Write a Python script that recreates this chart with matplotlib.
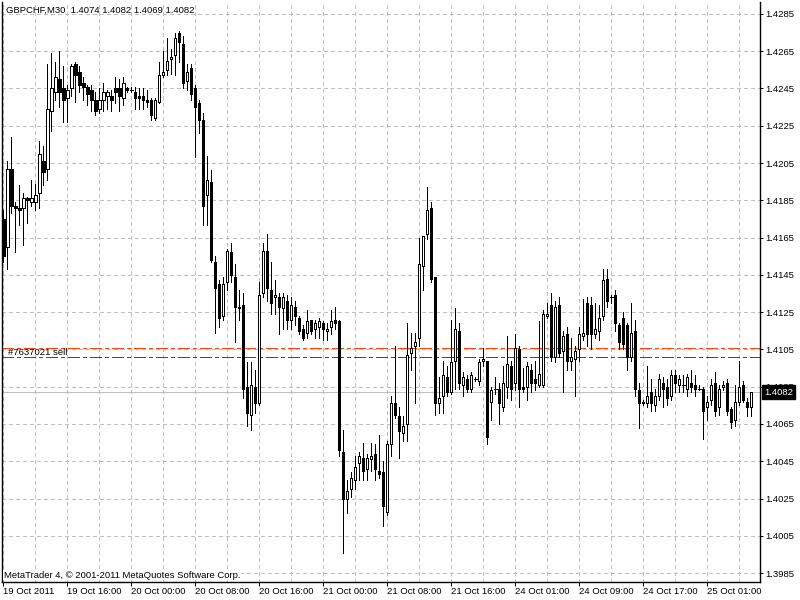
""" redraw the GBPCHF M30 candle chart """

import matplotlib
matplotlib.use("Agg")
import matplotlib.pyplot
import matplotlib.transforms
import numpy

OUTPUT = "out.png"

SYMBOL = "GBPCHF,M30"
COPYRIGHT = "MetaTrader 4, \u00a9 2001-2011 MetaQuotes Software Corp."
ORDER_LABEL = "#7637021 sell"
ORDER_OPEN = 1.4101
ORDER_STOP = 1.4106

# one label every 16 bars (8 hours)
TIME_LABELS = ["19 Oct 2011", "19 Oct 16:00", "20 Oct 00:00", "20 Oct 08:00",
               "20 Oct 16:00", "21 Oct 00:00", "21 Oct 08:00", "21 Oct 16:00",
               "24 Oct 01:00", "24 Oct 09:00", "24 Oct 17:00", "25 Oct 01:00"]
PRICE_TICKS = [1.3985, 1.4005, 1.4025, 1.4045, 1.4065, 1.4085, 1.4105, 1.4125,
               1.4145, 1.4165, 1.4185, 1.4205, 1.4225, 1.4245, 1.4265, 1.4285]

OPENS = [1.4175, 1.4160, 1.4202, 1.4182, 1.4181, 1.4181, 1.4186, 1.4184, 1.4184, 1.4189,
         1.4206, 1.4202, 1.4233, 1.4243, 1.4250, 1.4245, 1.4240, 1.4245, 1.4258, 1.4254,
         1.4248, 1.4246, 1.4244, 1.4239, 1.4234, 1.4239, 1.4241, 1.4241, 1.4245, 1.4245,
         1.4240, 1.4245, 1.4244, 1.4243, 1.4241, 1.4241, 1.4239, 1.4239, 1.4229, 1.4238,
         1.4252, 1.4255, 1.4261, 1.4263, 1.4275, 1.4269, 1.4249, 1.4256, 1.4245, 1.4237,
         1.4228, 1.4188, 1.4195, 1.4152, 1.4140, 1.4123, 1.4141, 1.4157, 1.4144, 1.4127,
         1.4129, 1.4085, 1.4070, 1.4085, 1.4076, 1.4135, 1.4158, 1.4137, 1.4133, 1.4133,
         1.4127, 1.4131, 1.4121, 1.4128, 1.4122, 1.4116, 1.4114, 1.4121, 1.4116, 1.4117,
         1.4119, 1.4115, 1.4117, 1.4121, 1.4120, 1.4050, 1.4025, 1.4030, 1.4035, 1.4044,
         1.4047, 1.4041, 1.4046, 1.4049, 1.4040, 1.4039, 1.4018, 1.4054, 1.4076, 1.4069,
         1.4060, 1.4065, 1.4103, 1.4107, 1.4111, 1.4150, 1.4167, 1.4181, 1.4144, 1.4076,
         1.4080, 1.4090, 1.4082, 1.4099, 1.4115, 1.4086, 1.4089, 1.4084, 1.4089, 1.4088,
         1.4099, 1.4099, 1.4077, 1.4084, 1.4084, 1.4074, 1.4085, 1.4096, 1.4087, 1.4105,
         1.4085, 1.4085, 1.4094, 1.4089, 1.4086, 1.4086, 1.4123, 1.4129, 1.4101, 1.4129,
         1.4104, 1.4113, 1.4099, 1.4100, 1.4105, 1.4112, 1.4130, 1.4129, 1.4113, 1.4115,
         1.4123, 1.4143, 1.4133, 1.4134, 1.4118, 1.4122, 1.4118, 1.4101, 1.4115, 1.4083,
         1.4077, 1.4076, 1.4082, 1.4075, 1.4080, 1.4087, 1.4085, 1.4080, 1.4091, 1.4086,
         1.4086, 1.4084, 1.4087, 1.4086, 1.4084, 1.4084, 1.4074, 1.4078, 1.4087, 1.4074,
         1.4085, 1.4087, 1.4073, 1.4067, 1.4077, 1.4086, 1.4077, 1.4074]

HIGHS = [1.4180, 1.4206, 1.4219, 1.4184, 1.4193, 1.4189, 1.4187, 1.4196, 1.4194, 1.4217,
         1.4214, 1.4258, 1.4264, 1.4259, 1.4265, 1.4257, 1.4247, 1.4258, 1.4259, 1.4257,
         1.4251, 1.4247, 1.4247, 1.4243, 1.4245, 1.4248, 1.4244, 1.4244, 1.4251, 1.4250,
         1.4251, 1.4246, 1.4246, 1.4246, 1.4245, 1.4245, 1.4244, 1.4240, 1.4240, 1.4259,
         1.4265, 1.4272, 1.4266, 1.4275, 1.4276, 1.4273, 1.4258, 1.4258, 1.4247, 1.4239,
         1.4232, 1.4209, 1.4201, 1.4155, 1.4142, 1.4144, 1.4159, 1.4162, 1.4151, 1.4137,
         1.4135, 1.4098, 1.4098, 1.4094, 1.4141, 1.4162, 1.4167, 1.4152, 1.4142, 1.4135,
         1.4135, 1.4134, 1.4133, 1.4131, 1.4123, 1.4118, 1.4126, 1.4121, 1.4121, 1.4122,
         1.4120, 1.4119, 1.4126, 1.4128, 1.4121, 1.4062, 1.4035, 1.4039, 1.4048, 1.4050,
         1.4055, 1.4049, 1.4055, 1.4054, 1.4059, 1.4045, 1.4056, 1.4080, 1.4107, 1.4074,
         1.4069, 1.4119, 1.4114, 1.4114, 1.4165, 1.4166, 1.4192, 1.4184, 1.4144, 1.4090,
         1.4099, 1.4096, 1.4121, 1.4127, 1.4119, 1.4093, 1.4091, 1.4093, 1.4090, 1.4100,
         1.4106, 1.4099, 1.4085, 1.4090, 1.4087, 1.4096, 1.4112, 1.4099, 1.4113, 1.4107,
         1.4095, 1.4098, 1.4097, 1.4099, 1.4120, 1.4126, 1.4130, 1.4135, 1.4131, 1.4133,
         1.4115, 1.4117, 1.4111, 1.4107, 1.4117, 1.4132, 1.4133, 1.4133, 1.4130, 1.4129,
         1.4148, 1.4148, 1.4134, 1.4137, 1.4119, 1.4125, 1.4119, 1.4130, 1.4121, 1.4087,
         1.4078, 1.4096, 1.4089, 1.4084, 1.4092, 1.4090, 1.4089, 1.4094, 1.4094, 1.4091,
         1.4091, 1.4092, 1.4094, 1.4091, 1.4086, 1.4085, 1.4080, 1.4089, 1.4093, 1.4086,
         1.4088, 1.4089, 1.4074, 1.4086, 1.4099, 1.4088, 1.4079, 1.4082]

LOWS = [1.4152, 1.4148, 1.4178, 1.4157, 1.4172, 1.4161, 1.4173, 1.4182, 1.4180, 1.4181,
        1.4193, 1.4196, 1.4222, 1.4239, 1.4235, 1.4227, 1.4227, 1.4241, 1.4238, 1.4243,
        1.4239, 1.4236, 1.4233, 1.4231, 1.4232, 1.4233, 1.4234, 1.4233, 1.4237, 1.4233,
        1.4236, 1.4243, 1.4243, 1.4234, 1.4234, 1.4234, 1.4235, 1.4228, 1.4228, 1.4237,
        1.4251, 1.4252, 1.4253, 1.4252, 1.4259, 1.4245, 1.4244, 1.4239, 1.4208, 1.4221,
        1.4172, 1.4172, 1.4152, 1.4114, 1.4117, 1.4121, 1.4137, 1.4141, 1.4109, 1.4121,
        1.4079, 1.4064, 1.4062, 1.4071, 1.4075, 1.4133, 1.4131, 1.4124, 1.4124, 1.4113,
        1.4116, 1.4116, 1.4116, 1.4118, 1.4113, 1.4110, 1.4111, 1.4113, 1.4111, 1.4111,
        1.4110, 1.4110, 1.4113, 1.4116, 1.4048, 1.3996, 1.4017, 1.4026, 1.4030, 1.4035,
        1.4035, 1.4035, 1.4040, 1.4035, 1.4036, 1.4010, 1.4016, 1.4048, 1.4068, 1.4047,
        1.4056, 1.4056, 1.4094, 1.4076, 1.4107, 1.4137, 1.4164, 1.4141, 1.4070, 1.4071,
        1.4071, 1.4080, 1.4081, 1.4084, 1.4084, 1.4080, 1.4082, 1.4082, 1.4088, 1.4086,
        1.4096, 1.4054, 1.4067, 1.4081, 1.4065, 1.4072, 1.4079, 1.4078, 1.4083, 1.4074,
        1.4082, 1.4078, 1.4082, 1.4083, 1.4085, 1.4085, 1.4122, 1.4099, 1.4098, 1.4101,
        1.4082, 1.4094, 1.4094, 1.4080, 1.4099, 1.4110, 1.4107, 1.4105, 1.4111, 1.4110,
        1.4121, 1.4128, 1.4130, 1.4115, 1.4105, 1.4105, 1.4094, 1.4099, 1.4080, 1.4063,
        1.4075, 1.4074, 1.4072, 1.4072, 1.4078, 1.4074, 1.4075, 1.4078, 1.4082, 1.4082,
        1.4082, 1.4080, 1.4082, 1.4080, 1.4083, 1.4057, 1.4067, 1.4075, 1.4069, 1.4070,
        1.4083, 1.4070, 1.4063, 1.4064, 1.4075, 1.4077, 1.4069, 1.4069]

CLOSES = [1.4155, 1.4202, 1.4182, 1.4181, 1.4180, 1.4186, 1.4185, 1.4186, 1.4188, 1.4210,
          1.4200, 1.4234, 1.4245, 1.4251, 1.4243, 1.4239, 1.4244, 1.4257, 1.4252, 1.4247,
          1.4246, 1.4242, 1.4239, 1.4233, 1.4239, 1.4243, 1.4243, 1.4239, 1.4243, 1.4241,
          1.4248, 1.4244, 1.4244, 1.4240, 1.4240, 1.4239, 1.4238, 1.4231, 1.4239, 1.4252,
          1.4254, 1.4260, 1.4262, 1.4272, 1.4270, 1.4248, 1.4254, 1.4242, 1.4235, 1.4228,
          1.4182, 1.4196, 1.4153, 1.4138, 1.4122, 1.4140, 1.4158, 1.4145, 1.4128, 1.4128,
          1.4084, 1.4071, 1.4086, 1.4076, 1.4134, 1.4158, 1.4138, 1.4130, 1.4134, 1.4128,
          1.4133, 1.4121, 1.4129, 1.4123, 1.4115, 1.4111, 1.4120, 1.4115, 1.4119, 1.4120,
          1.4116, 1.4116, 1.4120, 1.4119, 1.4051, 1.4025, 1.4029, 1.4036, 1.4042, 1.4048,
          1.4040, 1.4047, 1.4048, 1.4041, 1.4038, 1.4021, 1.4054, 1.4076, 1.4070, 1.4061,
          1.4064, 1.4102, 1.4106, 1.4109, 1.4151, 1.4166, 1.4180, 1.4143, 1.4076, 1.4079,
          1.4091, 1.4082, 1.4098, 1.4116, 1.4087, 1.4090, 1.4084, 1.4091, 1.4089, 1.4098,
          1.4100, 1.4058, 1.4083, 1.4084, 1.4076, 1.4087, 1.4097, 1.4084, 1.4106, 1.4084,
          1.4084, 1.4096, 1.4087, 1.4087, 1.4092, 1.4124, 1.4124, 1.4101, 1.4128, 1.4103,
          1.4112, 1.4099, 1.4101, 1.4104, 1.4113, 1.4114, 1.4113, 1.4113, 1.4116, 1.4122,
          1.4142, 1.4131, 1.4133, 1.4119, 1.4109, 1.4108, 1.4101, 1.4114, 1.4084, 1.4076,
          1.4076, 1.4080, 1.4076, 1.4080, 1.4089, 1.4084, 1.4079, 1.4091, 1.4087, 1.4089,
          1.4086, 1.4090, 1.4085, 1.4084, 1.4084, 1.4072, 1.4077, 1.4086, 1.4072, 1.4084,
          1.4086, 1.4072, 1.4066, 1.4077, 1.4085, 1.4078, 1.4074, 1.4082]

GRID_COLOR = "#c0c0c0"
PX = 72.0 / 100  # one pixel in points


def plot_chart():
    matplotlib.rcParams["font.family"] = ["Liberation Sans", "DejaVu Sans"]
    matplotlib.rcParams["font.size"] = 6.8
    matplotlib.rcParams["lines.scale_dashes"] = False

    opens = numpy.array(OPENS)
    highs = numpy.array(HIGHS)
    lows = numpy.array(LOWS)
    closes = numpy.array(CLOSES)
    index = numpy.arange(len(opens))

    fig = matplotlib.pyplot.figure(figsize=(8, 6), dpi=100, facecolor="white")
    # plot area: 2..760 px wide, 2..582 px tall
    ax = fig.add_axes([2 / 800, 18 / 600, 758 / 800, 580 / 600])
    ax.set_xlim(-0.33, 189.2)
    ax.set_ylim(1.39802, 1.42914)

    # dashed grid, every 8 bars and every price tick
    for k in range(0, 190, 8):
        ax.axvline(k, color=GRID_COLOR, linewidth=PX, linestyle=(0, (3 * PX, 3 * PX)),
                   antialiased=False, zorder=0)
    for p in PRICE_TICKS:
        ax.axhline(p, color=GRID_COLOR, linewidth=PX, linestyle=(0, (3 * PX, 3 * PX)),
                   antialiased=False, zorder=0)

    # bid line
    ax.axhline(closes[-1], color=GRID_COLOR, linewidth=PX, antialiased=False, zorder=1)

    # order lines (stop loss in red, open price in green)
    dashdot = (0, (11 * PX, 4 * PX, 3 * PX, 4 * PX))
    ax.axhline(ORDER_STOP, color="#ff4500", linewidth=PX, linestyle=dashdot,
               antialiased=False, zorder=1)
    ax.axhline(ORDER_OPEN, color="#008000", linewidth=PX, linestyle=dashdot,
               antialiased=False, zorder=1)

    # candles
    ax.vlines(index, lows, highs, color="black", linewidth=PX, antialiased=False, zorder=2)
    up = closes > opens
    down = closes < opens
    flat = closes == opens
    ax.bar(index[up], (closes - opens)[up], 0.6, bottom=opens[up], facecolor="white",
           edgecolor="black", linewidth=PX, antialiased=False, zorder=3)
    ax.bar(index[down], (opens - closes)[down], 0.6, bottom=closes[down], facecolor="black",
           edgecolor="black", linewidth=PX, antialiased=False, zorder=3)
    ax.hlines(opens[flat], index[flat] - 0.35, index[flat] + 0.35, color="black",
              linewidth=PX, antialiased=False, zorder=3)

    # frame
    for side in ["left", "right", "bottom"]:
        ax.spines[side].set_linewidth(PX * 1.4)
        ax.spines[side].set_color("black")
    ax.spines["top"].set_visible(False)

    # price axis on the right
    ax.yaxis.tick_right()
    ax.set_yticks(PRICE_TICKS)
    ax.set_yticklabels(["{:.4f}".format(p) for p in PRICE_TICKS])
    ax.tick_params(axis="y", direction="out", length=3 * PX, width=PX, pad=2 * PX,
                   labelsize=6.8, colors="black")

    # time axis
    ax.set_xticks(numpy.arange(len(TIME_LABELS)) * 16)
    ax.set_xticklabels(TIME_LABELS)
    for label in ax.get_xticklabels():
        label.set_horizontalalignment("left")
    ax.tick_params(axis="x", direction="out", length=4 * PX, width=PX, pad=0.5,
                   labelsize=6.8, colors="black")

    # bid price box, drawn over the 1.4085 label as the terminal does
    trans = matplotlib.transforms.blended_transform_factory(ax.transAxes, ax.transData)
    ax.text(1.0 + 4 / 758, closes[-1], "{:.4f}".format(closes[-1]), transform=trans,
            color="white", ha="left", va="center", fontsize=6.8, zorder=5, clip_on=False,
            bbox=dict(boxstyle="square,pad=0.25", facecolor="black", edgecolor="black"))

    # order label
    ax.text(6 / 758, ORDER_OPEN, ORDER_LABEL, transform=trans, ha="left", va="bottom",
            fontsize=6.8, zorder=5)

    # header and copyright
    header = "{}  {:.4f} {:.4f} {:.4f} {:.4f}".format(SYMBOL, opens[-1], highs[-1], lows[-1], closes[-1])
    fig.text(6 / 800, 1 - 10 / 600, header, ha="left", va="center", fontsize=6.8)
    fig.text(4 / 800, 1 - 575 / 600, COPYRIGHT, ha="left", va="center", fontsize=6.8,
             bbox=dict(boxstyle="square,pad=0.1", facecolor="white", edgecolor="none"))

    fig.savefig(OUTPUT, dpi=100)
    matplotlib.pyplot.close(fig)


if __name__ == "__main__":
    plot_chart()
